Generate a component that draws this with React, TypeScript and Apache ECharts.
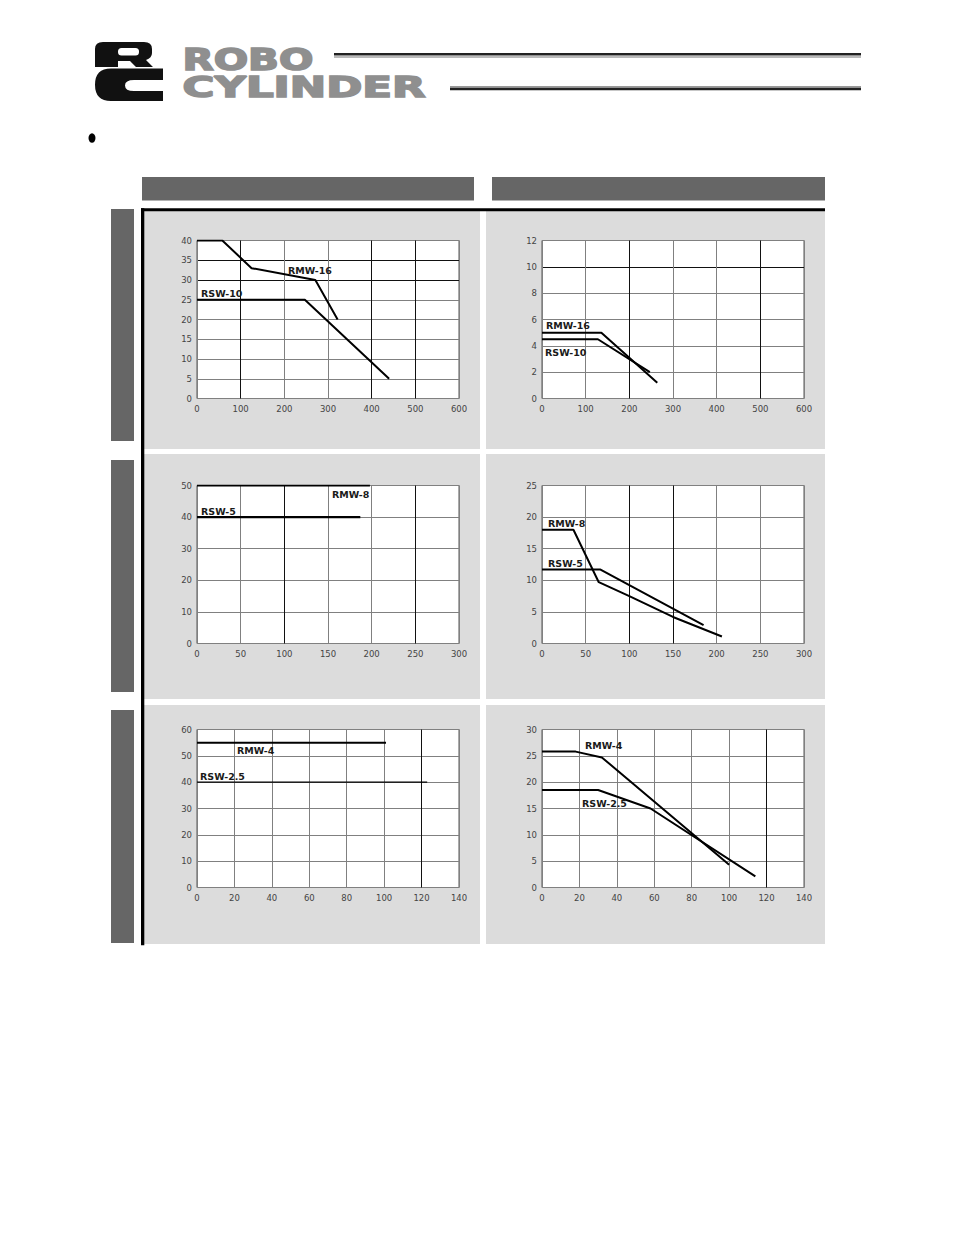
import React, { useEffect, useRef } from "react";
import * as echarts from "echarts";

// ---- Data ----
const rmw16Horizontal = [[0, 40], [58, 40], [125, 33], [271, 30], [322, 20]];
const rsw10Horizontal = [[0, 25], [247, 25], [440, 5]];
const rmw16Vertical = [[0, 5], [136, 5], [264, 1.2]];
const rsw10Vertical = [[0, 4.5], [128, 4.5], [247, 2]];
const rmw8Horizontal = [[0, 50], [198, 50]];
const rsw5Horizontal = [[0, 40], [187, 40]];
const rmw8Vertical = [[0, 18], [36, 18], [65, 9.7], [100, 7.5], [150, 4.2], [206, 1.1]];
const rsw5Vertical = [[0, 11.7], [67, 11.7], [185, 2.9]];
const rmw4Horizontal = [[0, 55], [101, 55]];
const rsw25Horizontal = [[0, 40], [123, 40]];
const rmw4Vertical = [[0, 25.8], [18, 25.8], [32, 24.7], [100, 4.3]];
const rsw25Vertical = [[0, 18.5], [30, 18.5], [58, 15], [114, 2.1]];

// axis ranges [min, max, interval]
const xRanges = [[0, 600, 100], [0, 600, 100], [0, 300, 50], [0, 300, 50], [0, 140, 20], [0, 140, 20]];
const yRanges = [[0, 40, 5], [0, 12, 2], [0, 50, 10], [0, 25, 5], [0, 60, 10], [0, 30, 5]];

// series names per panel
const seriesNames = [
  ["RMW-16", "RSW-10"],
  ["RMW-16", "RSW-10"],
  ["RMW-8", "RSW-5"],
  ["RMW-8", "RSW-5"],
  ["RMW-4", "RSW-2.5"],
  ["RMW-4", "RSW-2.5"],
];
const seriesData = [
  [rmw16Horizontal, rsw10Horizontal],
  [rmw16Vertical, rsw10Vertical],
  [rmw8Horizontal, rsw5Horizontal],
  [rmw8Vertical, rsw5Vertical],
  [rmw4Horizontal, rsw25Horizontal],
  [rmw4Vertical, rsw25Vertical],
];

const G = "#808080";
const K = "#111";
const vColors = [
  [G, K, G, G, K, K, G],
  [G, G, K, G, G, K, G],
  [G, G, K, G, G, K, G],
  [G, G, K, K, G, G, G],
  [G, G, G, G, G, G, K, G],
  [G, G, G, G, G, G, K, G],
];
const hColors = [
  [G, G, G, G, G, G, K, K, G],
  [G, G, G, G, G, K, G],
  [G, G, G, G, G, G],
  [G, G, G, G, G, G],
  [G, G, G, G, G, G, G],
  [G, G, G, G, G, G, G],
];

// label positions (pixels) for series names
const labelPos = [
  [[288, 270], [201, 293]],
  [[546, 325], [545, 352]],
  [[332, 494], [201, 511]],
  [[548, 523], [548, 563]],
  [[237, 750], [200, 776]],
  [[585, 745], [582, 803]],
];

const gridRects = [
  { left: 197, top: 240.5, width: 262, height: 158 },
  { left: 542, top: 240.5, width: 262, height: 158 },
  { left: 197, top: 485.5, width: 262, height: 158 },
  { left: 542, top: 485.5, width: 262, height: 158 },
  { left: 197, top: 729.5, width: 262, height: 158 },
  { left: 542, top: 729.5, width: 262, height: 158 },
];

const lineWidths = [
  [2, 2],
  [2, 2],
  [2.2, 2.2],
  [2, 2],
  [2, 1.4],
  [2, 2],
];

export default function App() {
  const ref = useRef<HTMLDivElement>(null);
  useEffect(() => {
    if (!ref.current) return;
    const chart = echarts.init(ref.current, null, { renderer: "svg" });
    echarts.graphic.registerShape(
      "logoR",
      echarts.graphic.extendPath(
        "M95,49 Q95,42 103,42 L144,42 Q152,42 152,49 L152,53 Q152,58 146,60 L153,67 L136,67 L130,61 L118,61 L118,67 L95,67 Z",
        {}
      )
    );
    echarts.graphic.registerShape(
      "logoC",
      echarts.graphic.extendPath(
        "M111,68.5 L163,68.5 L163,80 L134,80 Q125,80 125,85.5 Q125,91 134,91 L163,91 L163,101 L111,101 Q95,101 95,84.75 Q95,68.5 111,68.5 Z",
        {}
      )
    );

    const grids = gridRects.map((r) => ({
      ...r,
      show: true,
      backgroundColor: "#ffffff",
      borderColor: "#555",
      borderWidth: 1,
      containLabel: false,
    }));

    const labelFont = { fontSize: 8.5, color: "#444", fontFamily: "DejaVu Sans" };
    const xAxes = xRanges.map((r, i) => ({
      type: "value",
      gridIndex: i,
      min: r[0],
      max: r[1],
      interval: r[2],
      axisLine: { show: false },
      axisTick: { show: false },
      axisLabel: { ...labelFont, margin: 6 },
      splitLine: { show: true, lineStyle: { color: vColors[i], width: 1 } },
    }));
    const yAxes = yRanges.map((r, i) => ({
      type: "value",
      gridIndex: i,
      min: r[0],
      max: r[1],
      interval: r[2],
      axisLine: { show: false },
      axisTick: { show: false },
      axisLabel: { ...labelFont, margin: 5 },
      splitLine: { show: true, lineStyle: { color: hColors[i], width: 1 } },
    }));

    const series: any[] = [];
    seriesData.forEach((pair, i) => {
      pair.forEach((d, j) => {
        series.push({
          type: "line",
          name: seriesNames[i][j],
          xAxisIndex: i,
          yAxisIndex: i,
          data: d,
          symbol: "none",
          lineStyle: { color: "#000", width: lineWidths[i][j] },
          silent: true,
          z: 5,
        });
      });
    });

    const graphics: any[] = [];
    // logo
    graphics.push({ type: "logoR", style: { fill: "#111" } });
    graphics.push({ type: "rect", shape: { x: 118, y: 48, width: 21, height: 7.5, r: 3.5 }, style: { fill: "#fff" } });
    graphics.push({ type: "logoC", style: { fill: "#111" } });
    graphics.push({
      type: "text",
      x: 182.5,
      y: 59,
      scaleX: 1.35,
      style: {
        text: "ROBO",
        font: "bold 30px 'DejaVu Sans'",
        fill: "#8f8f8f",
        stroke: "#8f8f8f",
        lineWidth: 1.6,
        verticalAlign: "middle",
        align: "left",
      },
    });
    graphics.push({
      type: "text",
      x: 182.5,
      y: 87.5,
      scaleX: 1.5,
      style: {
        text: "CYLINDER",
        font: "bold 29px 'DejaVu Sans'",
        fill: "#8f8f8f",
        stroke: "#8f8f8f",
        lineWidth: 1.6,
        verticalAlign: "middle",
        align: "left",
      },
    });
    // header rules
    graphics.push({ type: "rect", shape: { x: 334, y: 53, width: 527, height: 2.6 }, style: { fill: "#222" } });
    graphics.push({ type: "rect", shape: { x: 334, y: 56.6, width: 527, height: 0.8 }, style: { fill: "#777" } });
    graphics.push({ type: "rect", shape: { x: 450, y: 86, width: 411, height: 0.8 }, style: { fill: "#777" } });
    graphics.push({ type: "rect", shape: { x: 450, y: 87.6, width: 411, height: 2.6 }, style: { fill: "#222" } });
    // bullet
    graphics.push({ type: "ellipse", shape: { cx: 92, cy: 138, rx: 3.5, ry: 4.8 }, style: { fill: "#000" } });
    // column header bars
    graphics.push({ type: "rect", shape: { x: 142, y: 177, width: 332, height: 23.5 }, style: { fill: "#666" } });
    graphics.push({ type: "rect", shape: { x: 492, y: 177, width: 333, height: 23.5 }, style: { fill: "#666" } });
    // side bars
    [[209, 441], [460, 692], [710, 943]].forEach(([a, b]) => {
      graphics.push({ type: "rect", shape: { x: 111, y: a, width: 23, height: b - a }, style: { fill: "#666" } });
    });
    // panel backgrounds
    [[211, 449], [454, 699], [705, 944]].forEach(([a, b]) => {
      graphics.push({ type: "rect", z: -10, shape: { x: 144, y: a, width: 336, height: b - a }, style: { fill: "#dcdcdc" } });
      graphics.push({ type: "rect", z: -10, shape: { x: 486, y: a, width: 339, height: b - a }, style: { fill: "#dcdcdc" } });
    });
    // black frame lines
    graphics.push({ type: "rect", shape: { x: 141, y: 208.3, width: 3.3, height: 737 }, style: { fill: "#000" } });
    graphics.push({ type: "rect", shape: { x: 141, y: 208.3, width: 684, height: 3 }, style: { fill: "#000" } });

    // series labels
    labelPos.forEach((pp, i) => {
      pp.forEach((p, j) => {
        graphics.push({
          type: "text",
          x: p[0],
          y: p[1],
          z: 20,
          style: {
            text: seriesNames[i][j],
            font: "bold 9.5px 'DejaVu Sans'",
            fill: "#1a1a1a",
            verticalAlign: "middle",
            align: "left",
          },
        });
      });
    });

    chart.setOption({
      animation: false,
      backgroundColor: "#ffffff",
      grid: grids,
      xAxis: xAxes,
      yAxis: yAxes,
      series,
      graphic: { elements: graphics },
    });
    return () => chart.dispose();
  }, []);
  return (
    <div
      ref={ref}
      style={{ position: "absolute", left: 0, top: 0, width: 954, height: 1235 }}
    />
  );
}
